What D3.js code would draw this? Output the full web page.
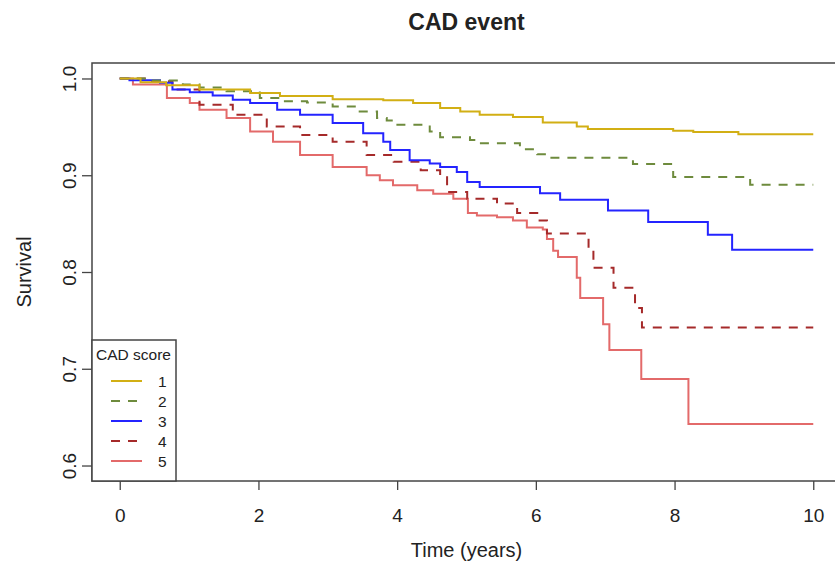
<!DOCTYPE html>
<html>
<head>
<meta charset="utf-8">
<script src="https://cdn.jsdelivr.net/npm/d3@7"></script>
<style>
  body { margin: 0; background: #fff; }
  text { font-family: "Liberation Sans", Arial, Helvetica, sans-serif; fill: #222; }
</style>
</head>
<body>
<div id="visualisationDiv" style="width:835px;height:561px;"></div>
<script>
// Kaplan-Meier curves (time in years, survival)
var timesScore1 = [0, 0.3, 0.67, 1.15, 1.88, 2.31, 3.07, 3.8, 4.23, 4.62, 4.91, 5.19, 5.67, 6.10, 6.59, 6.75, 7.98, 8.27, 8.92, 10];
var survScore1  = [1.0, 0.996, 0.993, 0.9885, 0.985, 0.982, 0.9785, 0.9774, 0.9747, 0.9695, 0.9659, 0.9625, 0.9601, 0.9545, 0.9503, 0.9479, 0.9461, 0.9448, 0.9424, 0.9424];

var timesScore2 = [0, 0.4, 0.91, 1.15, 1.54, 2.02, 2.31, 2.70, 3.07, 3.46, 3.71, 3.85, 3.94, 4.47, 4.62, 5.05, 5.15, 5.77, 6.02, 6.16, 7.40, 7.98, 9.09, 10];
var survScore2  = [1.0, 0.998, 0.9938, 0.9906, 0.9868, 0.9799, 0.9764, 0.9753, 0.9711, 0.9659, 0.9591, 0.9566, 0.9521, 0.9451, 0.9393, 0.9365, 0.9330, 0.9268, 0.9216, 0.9180, 0.9115, 0.8982, 0.8903, 0.8903];

var timesScore3 = [0, 0.14, 0.58, 0.76, 1.01, 1.34, 1.63, 1.88, 2.27, 2.60, 3.07, 3.51, 3.80, 3.90, 4.18, 4.47, 4.62, 4.86, 5.01, 5.19, 6.06, 6.35, 7.04, 7.62, 8.48, 8.83, 10];
var survScore3  = [1.0, 0.9982, 0.9955, 0.9885, 0.9857, 0.9823, 0.9781, 0.9747, 0.9677, 0.9625, 0.9539, 0.9434, 0.9347, 0.9260, 0.9156, 0.9122, 0.9086, 0.9034, 0.8930, 0.8878, 0.8813, 0.8747, 0.8635, 0.8516, 0.8385, 0.8229, 0.8229];

var timesScore4 = [0, 0.43, 0.76, 1.15, 1.63, 2.12, 2.60, 3.07, 3.56, 3.95, 4.34, 4.62, 4.72, 5.01, 5.44, 5.73, 6.02, 6.16, 6.76, 6.83, 7.12, 7.43, 7.53, 10];
var survScore4  = [1.0, 0.9972, 0.9885, 0.9729, 0.9625, 0.9503, 0.9417, 0.9347, 0.9208, 0.9139, 0.9052, 0.9000, 0.8826, 0.8757, 0.8708, 0.8609, 0.8531, 0.8399, 0.8236, 0.8045, 0.7836, 0.7628, 0.7427, 0.7427];

var timesScore5 = [0, 0.19, 0.68, 1.01, 1.15, 1.54, 1.88, 2.21, 2.60, 3.07, 3.56, 3.75, 3.94, 4.29, 4.52, 4.81, 5.02, 5.15, 5.44, 5.67, 5.87, 6.10, 6.16, 6.25, 6.32, 6.59, 6.64, 6.97, 7.06, 7.52, 8.20, 10];
var survScore5  = [1.0, 0.9938, 0.9799, 0.9747, 0.9677, 0.9591, 0.9451, 0.9347, 0.9208, 0.9086, 0.9000, 0.8948, 0.8896, 0.8844, 0.8809, 0.8757, 0.8609, 0.8583, 0.8566, 0.8531, 0.8461, 0.8438, 0.8341, 0.8219, 0.8156, 0.7941, 0.7732, 0.7461, 0.7195, 0.6893, 0.6430, 0.6430];

var scoreLabels = ["1", "2", "3", "4", "5"];
var xTicks = [0, 2, 4, 6, 8, 10];
var yTicks = [0.6, 0.7, 0.8, 0.9, 1.0];

function makeVisualisation() {
  var parentDiv = document.getElementById("visualisationDiv");
  var width = 835, height = 561;

  var svg = d3.select(parentDiv).append("svg")
    .attr("width", width)
    .attr("height", height)
    .style("background", "#fff");

  // plot frame (right edge sits just outside the picture, like the original)
  var left = 92, right = 841, top = 63, bottom = 481;

  // R style 4% padding around the data range
  var x = d3.scaleLinear().domain([-0.4, 10.4]).range([left, right]);
  var y = d3.scaleLinear().domain([0.584, 1.016]).range([bottom, top]);

  var colours = ["#d2af14", "#6e8b3d", "#2424ff", "#a52a2a", "#e36a6a"];
  var dashes  = [null, "9,8", null, "9,8", null];

  var series = [
    { t: timesScore1, s: survScore1 },
    { t: timesScore2, s: survScore2 },
    { t: timesScore3, s: survScore3 },
    { t: timesScore4, s: survScore4 },
    { t: timesScore5, s: survScore5 }
  ];

  svg.append("clipPath").attr("id", "plotClip")
    .append("rect")
      .attr("x", left).attr("y", top)
      .attr("width", right - left).attr("height", bottom - top);

  var line = d3.line()
    .x(function(d) { return x(d[0]); })
    .y(function(d) { return y(d[1]); })
    .curve(d3.curveStepAfter);

  var curves = svg.append("g").attr("clip-path", "url(#plotClip)");

  // draw from 5 down to 1 so the top curves sit on top
  for (var i = series.length - 1; i >= 0; i--) {
    var pts = series[i].t.map(function(t, j) { return [t, series[i].s[j]]; });
    curves.append("path")
      .datum(pts)
      .attr("fill", "none")
      .attr("stroke", colours[i])
      .attr("stroke-width", 2)
      .attr("stroke-dasharray", dashes[i])
      .attr("d", line);
  }

  // axes
  var xAxis = svg.append("g")
    .attr("transform", "translate(0," + bottom + ")")
    .call(d3.axisBottom(x).tickValues(xTicks).tickSize(9).tickSizeOuter(0).tickPadding(19).tickFormat(d3.format("d")));
  xAxis.select(".domain").remove();
  xAxis.selectAll("line").attr("stroke", "#444").attr("stroke-width", 1.3);
  xAxis.selectAll("text").attr("font-size", 19).attr("fill", "#222");

  var yAxis = svg.append("g")
    .attr("transform", "translate(" + left + ",0)")
    .call(d3.axisLeft(y).tickValues(yTicks).tickSize(10).tickSizeOuter(0).tickFormat(d3.format(".1f")));
  yAxis.select(".domain").remove();
  yAxis.selectAll("line").attr("stroke", "#444").attr("stroke-width", 1.3);
  // R draws the y labels parallel to the axis
  yAxis.selectAll("text")
    .attr("font-size", 19)
    .attr("fill", "#222")
    .attr("text-anchor", "middle")
    .attr("x", 0)
    .attr("y", 0)
    .attr("dy", 0)
    .attr("transform", "translate(-16,0) rotate(-90)");

  // frame
  svg.append("rect")
    .attr("x", left).attr("y", top)
    .attr("width", right - left).attr("height", bottom - top)
    .attr("fill", "none")
    .attr("stroke", "#444")
    .attr("stroke-width", 1.5);

  // titles
  svg.append("text")
    .attr("x", (left + right) / 2).attr("y", 30)
    .attr("text-anchor", "middle")
    .attr("font-size", 23)
    .attr("font-weight", "bold")
    .attr("fill", "#111")
    .text("CAD event");

  svg.append("text")
    .attr("x", (left + right) / 2).attr("y", 557)
    .attr("text-anchor", "middle")
    .attr("font-size", 20)
    .text("Time (years)");

  svg.append("text")
    .attr("transform", "translate(31," + ((top + bottom) / 2) + ") rotate(-90)")
    .attr("text-anchor", "middle")
    .attr("font-size", 20)
    .text("Survival");

  // legend in the bottom left corner
  var legend = svg.append("g");
  legend.append("rect")
    .attr("x", left).attr("y", 340)
    .attr("width", 84).attr("height", bottom - 340)
    .attr("fill", "#fff")
    .attr("stroke", "#444")
    .attr("stroke-width", 1.5);

  legend.append("text")
    .attr("x", left + 4).attr("y", 360)
    .attr("font-size", 15.5)
    .text("CAD score");

  scoreLabels.forEach(function(lab, i) {
    var ly = 381 + i * 20;
    legend.append("line")
      .attr("x1", 111).attr("x2", 142)
      .attr("y1", ly).attr("y2", ly)
      .attr("stroke", colours[i])
      .attr("stroke-width", 2)
      .attr("stroke-dasharray", dashes[i]);
    legend.append("text")
      .attr("x", 158).attr("y", ly + 6)
      .attr("font-size", 15.5)
      .text(lab);
  });
}

makeVisualisation();
</script>
</body>
</html>
